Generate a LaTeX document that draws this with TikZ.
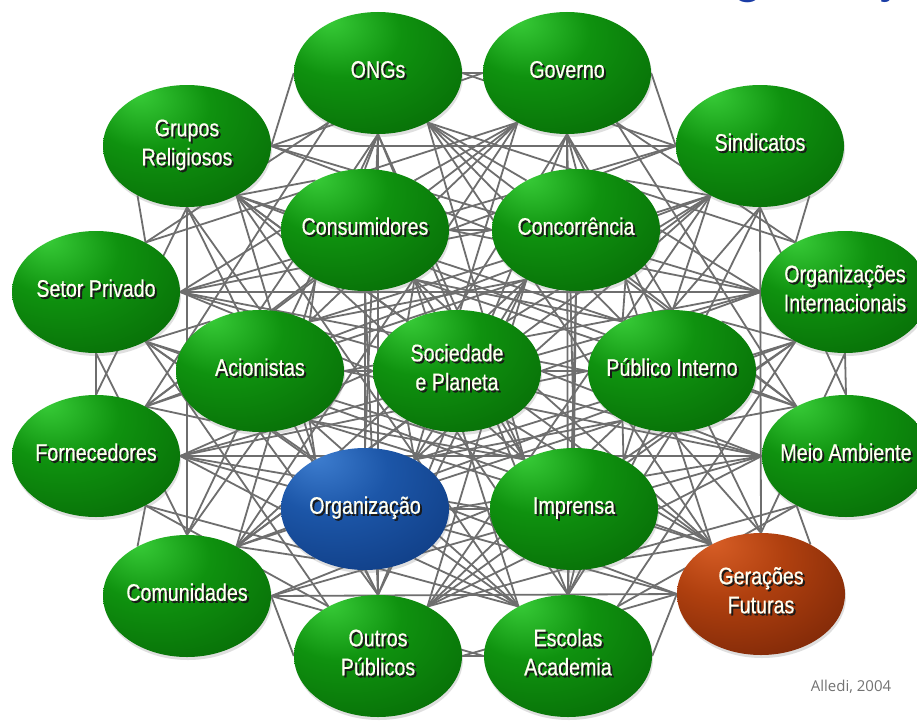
\documentclass[tikz,border=0pt]{standalone}
\usepackage{fontspec}
\setmainfont{Liberation Sans}[FakeStretch=0.82, FakeBold=0.5]
\newfontfamily\titlefont{Carlito}
\newfontfamily\notefont{Open Sans}
\usetikzlibrary{shapes.geometric,shadows,calc,backgrounds}

\definecolor{grnA}{HTML}{38CC38}
\definecolor{grnB}{HTML}{0F920F}
\definecolor{grnC}{HTML}{066806}
\definecolor{grnD}{HTML}{003A00}
\definecolor{bluA}{HTML}{3E7ED0}
\definecolor{bluB}{HTML}{1C56A8}
\definecolor{bluC}{HTML}{0E3A80}
\definecolor{bluD}{HTML}{072250}
\definecolor{redA}{HTML}{D85E26}
\definecolor{redB}{HTML}{B0400F}
\definecolor{redC}{HTML}{762406}
\definecolor{redD}{HTML}{441303}
\definecolor{linkgray}{HTML}{6E6E6E}
\definecolor{cream}{HTML}{FFFFF2}
\definecolor{headblue}{HTML}{1B3DA6}

\pgfdeclareradialshading{greenball}{\pgfpoint{-15bp}{22bp}}{color(0bp)=(grnA); color(18bp)=(grnB); color(44bp)=(grnC); color(70bp)=(grnD)}
\pgfdeclareradialshading{blueball}{\pgfpoint{-15bp}{22bp}}{color(0bp)=(bluA); color(18bp)=(bluB); color(44bp)=(bluC); color(70bp)=(bluD)}
\pgfdeclareradialshading{redball}{\pgfpoint{-15bp}{22bp}}{color(0bp)=(redA); color(18bp)=(redB); color(44bp)=(redC); color(70bp)=(redD)}

% white text with a dark shadow
\newcommand{\shadowed}[1]{%
  \makebox[0pt]{\hspace*{4pt}\raisebox{-2pt}{\color{black!90}\begin{tabular}{@{}c@{}}#1\end{tabular}}}%
  \makebox[0pt]{\color{cream}\begin{tabular}{@{}c@{}}#1\end{tabular}}}

\newcommand{\allnodes}{ongs,gov,grupos,sind,cons,conc,setor,orgint,acion,soc,pubint,forn,meio,org,impr,comun,ger,outros,escolas}

\tikzset{
  stake/.style={ellipse, minimum width=168pt, minimum height=122pt, inner sep=0pt,
    shading=greenball, drop shadow={shadow xshift=1pt, shadow yshift=-3pt, opacity=0.25},
    font=\fontsize{24}{29}\selectfont},
  firm/.style={stake, shading=blueball},
  future/.style={stake, shading=redball},
  link/.style={draw=linkgray, line width=1.8pt},
  head/.style={anchor=base west, text=headblue, inner sep=0pt, font=\titlefont\fontsize{54}{60}\selectfont},
  source/.style={text=black!55, inner sep=0pt, font=\notefont\fontsize{15}{17}\selectfont},
}

\begin{document}
\begin{tikzpicture}[x=1pt, y=-1pt]
    \useasboundingbox (0,0) rectangle (917,725);

    %Stakeholders
    \node[stake] (ongs)    at (378,73)  {\shadowed{ONGs}};
    \node[stake] (gov)     at (567,73)  {\shadowed{Governo}};
    \node[stake] (grupos)  at (187,146) {\shadowed{Grupos\\Religiosos}};
    \node[stake] (sind)    at (760,146) {\shadowed{Sindicatos}};
    \node[stake] (cons)    at (365,230) {\shadowed{Consumidores}};
    \node[stake] (conc)    at (576,230) {\shadowed{Concorrência}};
    \node[stake] (setor)   at (96,292)  {\shadowed{Setor Privado}};
    \node[stake] (orgint)  at (845,292) {\shadowed{Organizações\\Internacionais}};
    \node[stake] (acion)   at (260,371) {\shadowed{Acionistas}};
    \node[stake] (soc)     at (457,371) {\shadowed{Sociedade\\e Planeta}};
    \node[stake] (pubint)  at (672,371) {\shadowed{Público Interno}};
    \node[stake] (forn)    at (96,456)  {\shadowed{Fornecedores}};
    \node[stake] (meio)    at (846,456) {\shadowed{Meio Ambiente}};
    \node[firm]  (org)     at (365,509) {\shadowed{Organização}};
    \node[stake] (impr)    at (574,509) {\shadowed{Imprensa}};
    \node[stake] (comun)   at (187,596) {\shadowed{Comunidades}};
    \node[future] (ger)    at (761,594) {\shadowed{Gerações\\Futuras}};
    \node[stake] (outros)  at (378,656) {\shadowed{Outros\\Públicos}};
    \node[stake] (escolas) at (568,656) {\shadowed{Escolas\\Academia}};

    %Connectors, every pair, from the nearest of eight points
    \begin{pgfonlayer}{background}
    \fill[white] (0,0) rectangle (917,725);
    \foreach \a [count=\i] in \allnodes {
        \foreach \b [count=\j] in \allnodes {
            \ifnum\j>\i
            \draw[link] let \p1=(\a.center), \p2=(\b.center),
                \n1={int(45*mod(round(atan2(\y2-\y1,\x2-\x1)/45)+8,8))},
                \n2={int(mod(\n1+180,360))}
                in (\a.\n1) -- (\b.\n2);
            \fi
        }
    }
    \end{pgfonlayer}

    %-------------------------------------------
    %Labels
    \begin{scope}
        \clip (0,0) rectangle (917,725);
        \node[head] (title) at (681,-6) {Organização};
    \end{scope}
    \node[source] (ref) at (851,687) {Alledi, 2004};

\end{tikzpicture}
\end{document}
